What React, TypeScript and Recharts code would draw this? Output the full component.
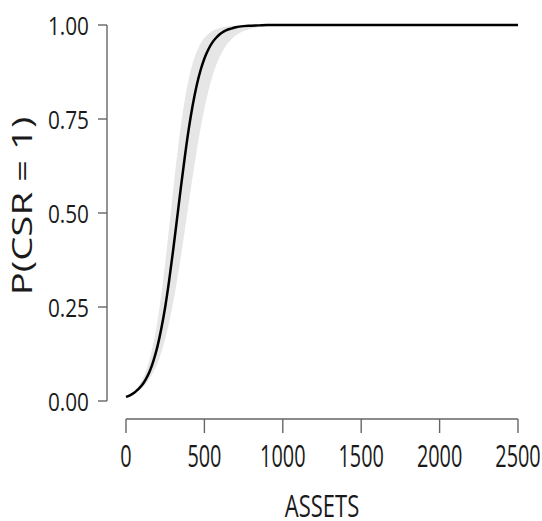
import React from "react";
import { ComposedChart, Area, Line, XAxis, YAxis, Label } from "recharts";

// Values
const assets = [0, 25, 50, 75, 100, 125, 150, 175, 200, 225, 250, 275, 300, 325, 350, 375, 400, 425, 450, 475, 500, 525, 550, 575, 600, 625, 650, 675, 700, 750, 800, 850, 900, 950, 1000, 1100, 1200, 1500, 2000, 2500];
const prob = [0.011, 0.015, 0.021, 0.030, 0.041, 0.057, 0.078, 0.107, 0.144, 0.192, 0.250, 0.320, 0.399, 0.483, 0.568, 0.649, 0.723, 0.786, 0.838, 0.879, 0.911, 0.935, 0.953, 0.966, 0.976, 0.983, 0.988, 0.991, 0.994, 0.997, 0.998, 0.999, 1.0, 1.0, 1.0, 1.0, 1.0, 1.0, 1.0, 1.0];
const upper = [0.012, 0.018, 0.026, 0.037, 0.054, 0.077, 0.110, 0.154, 0.211, 0.283, 0.368, 0.461, 0.558, 0.650, 0.733, 0.801, 0.856, 0.898, 0.928, 0.950, 0.966, 0.976, 0.984, 0.989, 0.993, 0.995, 0.997, 0.998, 0.998, 0.999, 1.0, 1.0, 1.0, 1.0, 1.0, 1.0, 1.0, 1.0, 1.0, 1.0];
const lower = [0.010, 0.014, 0.019, 0.026, 0.034, 0.045, 0.059, 0.077, 0.100, 0.129, 0.165, 0.209, 0.260, 0.319, 0.384, 0.454, 0.526, 0.597, 0.663, 0.724, 0.778, 0.824, 0.862, 0.893, 0.917, 0.937, 0.952, 0.963, 0.972, 0.984, 0.991, 0.995, 0.997, 0.998, 0.999, 1.0, 1.0, 1.0, 1.0, 1.0];

const xTicks = [0, 500, 1000, 1500, 2000, 2500];
const yTicks = [0, 0.25, 0.5, 0.75, 1];
const yTickLabels = ["0.00", "0.25", "0.50", "0.75", "1.00"];

const data = assets.map((a, i) => ({ assets: a, prob: prob[i], band: [lower[i], upper[i]] }));

const FONT = "'Open Sans', 'DejaVu Sans', sans-serif";
const AXIS = "#666666";
const TEXT = "#1a1a1a";

const XTick = (props: any) => {
  const { x, y, payload } = props;
  return (
    <g transform={`translate(${x},${y + 34})`}>
      <text transform="scale(0.64,1)" textAnchor="middle" fontFamily={FONT} fontSize={31} fill={TEXT}>
        {String(payload.value)}
      </text>
    </g>
  );
};

const YTick = (props: any) => {
  const { x, y, payload } = props;
  const idx = yTicks.indexOf(payload.value);
  const label = idx >= 0 ? yTickLabels[idx] : String(payload.value);
  return (
    <g transform={`translate(${x - 9},${y + 9.5})`}>
      <text transform="scale(0.8,1)" textAnchor="end" fontFamily={FONT} fontSize={26} fill={TEXT}>
        {label}
      </text>
    </g>
  );
};

const XLabel = (props: any) => {
  const vb = props.viewBox || {};
  const cx = (vb.x ?? 107) + 19 + ((vb.width ?? 411) - 19) / 2;
  return (
    <g transform={`translate(${cx},517)`}>
      <text transform="scale(0.71,1)" textAnchor="middle" fontFamily={FONT} fontSize={31} fill={TEXT}>
        ASSETS
      </text>
    </g>
  );
};

const YLabel = () => (
  <g transform="translate(32,206) rotate(-90)">
    <text transform="scale(1.45,1)" textAnchor="middle" fontFamily={FONT} fontSize={26.5} fill={TEXT}>
      P(CSR = 1)
    </text>
  </g>
);

export default function App() {
  return (
    <div style={{ position: "absolute", left: 0, top: 0, width: 542, height: 521, background: "#fff" }}>
      <ComposedChart width={542} height={521} data={data} margin={{ top: 25, right: 24, bottom: 0, left: 0 }}>
        <XAxis
          dataKey="assets"
          type="number"
          domain={[0, 2500]}
          ticks={xTicks}
          interval={0}
          height={102}
          padding={{ left: 19, right: 0 }}
          tickSize={14}
          tickMargin={0}
          axisLine={{ stroke: AXIS, strokeWidth: 1.4, strokeDasharray: "0 19 392 1000" }}
          tickLine={{ stroke: AXIS, strokeWidth: 1.4 }}
          tick={(p: any) => <XTick {...p} />}
        >
          <Label content={(p: any) => <XLabel {...p} />} />
        </XAxis>
        <YAxis
          type="number"
          domain={[0, 1]}
          ticks={yTicks}
          interval={0}
          width={107}
          padding={{ top: 0, bottom: 18 }}
          tickSize={9}
          tickMargin={0}
          axisLine={{ stroke: AXIS, strokeWidth: 1.4, strokeDasharray: "376 1000" }}
          tickLine={{ stroke: AXIS, strokeWidth: 1.4 }}
          tick={(p: any) => <YTick {...p} />}
        >
          <Label content={() => <YLabel />} />
        </YAxis>
        <Area
          dataKey="band"
          type="monotone"
          stroke="none"
          fill="#e6e6e6"
          fillOpacity={1}
          isAnimationActive={false}
          dot={false}
          activeDot={false}
        />
        <Line
          dataKey="prob"
          type="monotone"
          stroke="#000000"
          strokeWidth={2.5}
          dot={false}
          activeDot={false}
          isAnimationActive={false}
        />
      </ComposedChart>
    </div>
  );
}
